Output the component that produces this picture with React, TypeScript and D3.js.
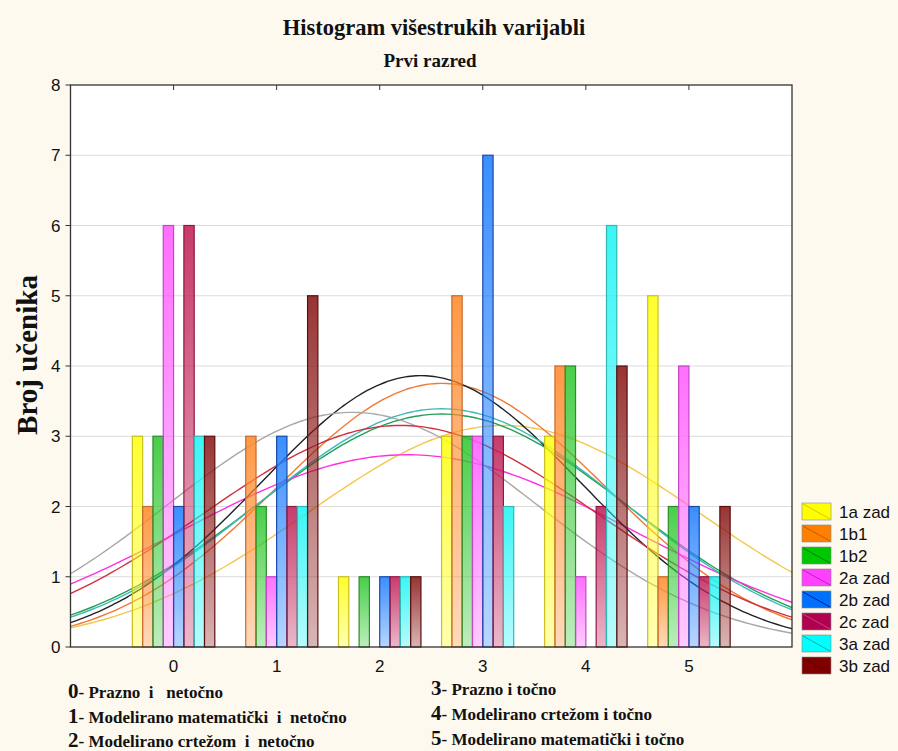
import React from "react";
import * as d3 from "d3";

const categories = [0, 1, 2, 3, 4, 5];
const yTicks = [0, 1, 2, 3, 4, 5, 6, 7, 8];
const seriesNames = ["1a zad", "1b1", "1b2", "2a zad", "2b zad", "2c zad", "3a zad", "3b zad"];
const v1a = [3, 0, 1, 3, 3, 5];
const v1b1 = [2, 3, 0, 5, 4, 1];
const v1b2 = [3, 2, 1, 3, 4, 2];
const v2a = [6, 1, 0, 3, 1, 4];
const v2b = [2, 3, 1, 7, 0, 2];
const v2c = [6, 2, 1, 3, 2, 1];
const v3a = [3, 2, 1, 2, 6, 1];
const v3b = [3, 5, 1, 0, 4, 2];
const seriesValues = [v1a, v1b1, v1b2, v2a, v2b, v2c, v3a, v3b];
const barColors = ["#ffff10", "#ff8a2a", "#30c830", "#ff5cff", "#1f7fff", "#c02058", "#20f4f4", "#8a1818"];
const barStrokes = ["#c8c020", "#c86a30", "#2c8c2c", "#c048c0", "#1a4aa8", "#90183c", "#30b8b8", "#5a1010"];
const legendColors = ["#ffff00", "#ff7f00", "#00c800", "#ff40ff", "#0070ff", "#b00050", "#00ffff", "#800000"];
const legendDiag = ["#d8c800", "#c85a00", "#008000", "#c020c0", "#002080", "#d04070", "#00b0b0", "#600000"];
const curveColors = ["#f4c64a", "#f07a34", "#22a055", "#ff30e0", "#1c2228", "#a8a8a8", "#40b8b8", "#d03040"];
const bottomLeft = [
  ["0", "- Prazno  i   netočno"],
  ["1", "- Modelirano matematički  i  netočno"],
  ["2", "- Modelirano crtežom  i  netočno"],
];
const bottomRight = [
  ["3", "- Prazno i točno"],
  ["4", "- Modelirano crtežom i točno"],
  ["5", "- Modelirano matematički i točno"],
];

const W = 898;
const H = 751;
const left = 70.5;
const right = 792;
const top = 85;
const bottom = 647;

export default function App() {
  const x = d3.scaleLinear().domain([-1, 6]).range([left, right]);
  const y = d3.scaleLinear().domain([0, 8]).range([bottom, top]);
  const nS = seriesNames.length;
  const groupW = 0.8;
  const bw = groupW / nS;

  const fits = seriesValues.map((vals) => {
    const N = d3.sum(vals);
    const mean = d3.sum(vals, (c, i) => c * categories[i]) / N;
    const ss = d3.sum(vals, (c, i) => c * (categories[i] - mean) ** 2);
    const sd = Math.sqrt(ss / (N - 1));
    return { N, mean, sd };
  });
  const xs = d3.range(-1, 6.0001, 0.05);
  const line = d3
    .line<number>()
    .x((d) => x(d))
    .curve(d3.curveMonotoneX);

  return (
    <svg width={W} height={H} style={{ position: "absolute", left: 0, top: 0 }}>
      <defs>
        <clipPath id="plotclip">
          <rect x={left} y={top} width={right - left} height={bottom - top} />
        </clipPath>
        {barColors.map((c, i) => (
          <linearGradient key={i} id={`g${i}`} x1="0" y1="0" x2="0" y2="1">
            <stop offset="0" stopColor={c} stopOpacity={0.88} />
            <stop offset="1" stopColor={c} stopOpacity={0.32} />
          </linearGradient>
        ))}
      </defs>
      <rect x={0} y={0} width={W} height={H} fill="#fdf9ef" />
      <rect x={left} y={top} width={right - left} height={bottom - top} fill="#ffffff" />
      {yTicks.slice(1, -1).map((t) => (
        <line key={t} x1={left} x2={right} y1={y(t)} y2={y(t)} stroke="#dcdcdc" strokeWidth={1} />
      ))}
      <g clipPath="url(#plotclip)">
        {fits.map((f, s) => (
          <path
            key={s}
            d={line.y((d) => y((f.N / (f.sd * Math.sqrt(2 * Math.PI))) * Math.exp(-0.5 * ((d - f.mean) / f.sd) ** 2)))(xs) || ""}
            fill="none"
            stroke={curveColors[s]}
            strokeWidth={1.4}
          />
        ))}
      </g>
      {seriesValues.map((vals, s) =>
        vals.map((v, i) =>
          v > 0 ? (
            <rect
              key={`${s}-${i}`}
              x={x(categories[i] - groupW / 2 + s * bw)}
              y={y(v)}
              width={x(bw) - x(0)}
              height={y(0) - y(v)}
              fill={`url(#g${s})`}
              stroke={barStrokes[s]}
              strokeWidth={1.2}
            />
          ) : null
        )
      )}
      <rect x={left} y={top} width={right - left} height={bottom - top} fill="none" stroke="#333" strokeWidth={1.3} />
      {yTicks.map((t) => (
        <g key={t}>
          <line x1={left - 5} x2={left} y1={y(t)} y2={y(t)} stroke="#333" />
          <text x={left - 10} y={y(t) + 6} textAnchor="end" fontFamily="Liberation Sans, Arial, sans-serif" fontSize={17} fill="#111">
            {t}
          </text>
        </g>
      ))}
      {categories.map((c) => (
        <g key={c}>
          <line x1={x(c)} x2={x(c)} y1={top} y2={top + 5} stroke="#333" />
          <text x={x(c)} y={672} textAnchor="middle" fontFamily="Liberation Sans, Arial, sans-serif" fontSize={17} fill="#111">
            {c}
          </text>
        </g>
      ))}
      <text x={434} y={35} textAnchor="middle" fontFamily="Liberation Serif, Times New Roman, serif" fontWeight="bold" fontSize={22.5} fill="#111">
        Histogram višestrukih varijabli
      </text>
      <text x={430} y={67} textAnchor="middle" fontFamily="Liberation Serif, Times New Roman, serif" fontWeight="bold" fontSize={19} fill="#111">
        Prvi razred
      </text>
      <text
        transform="translate(37,355) rotate(-90)"
        textAnchor="middle"
        fontFamily="Liberation Serif, Times New Roman, serif"
        fontWeight="bold"
        fontSize={29}
        fill="#111"
      >
        Broj učenika
      </text>
      {seriesNames.map((n, i) => (
        <g key={n} transform={`translate(802,${503 + i * 22})`}>
          <rect x={0} y={0} width={29} height={17} fill={legendColors[i]} stroke="#888" strokeWidth={0.6} />
          <line x1={1} y1={1} x2={28} y2={16} stroke={legendDiag[i]} strokeWidth={1} />
          <text x={37} y={14.5} fontFamily="Liberation Sans, Arial, sans-serif" fontSize={17} fill="#111">
            {n}
          </text>
        </g>
      ))}
      {bottomLeft.map((r, i) => (
        <text key={r[0]} x={68} y={698 + i * 24.5} fontFamily="Liberation Serif, Times New Roman, serif" fontWeight="bold" fill="#111" style={{ whiteSpace: "pre" }}>
          <tspan fontSize={21}>{r[0]}</tspan>
          <tspan fontSize={17}>{r[1]}</tspan>
        </text>
      ))}
      {bottomRight.map((r, i) => (
        <text key={r[0]} x={431} y={695 + i * 25} fontFamily="Liberation Serif, Times New Roman, serif" fontWeight="bold" fill="#111" style={{ whiteSpace: "pre" }}>
          <tspan fontSize={21}>{r[0]}</tspan>
          <tspan fontSize={17}>{r[1]}</tspan>
        </text>
      ))}
    </svg>
  );
}
